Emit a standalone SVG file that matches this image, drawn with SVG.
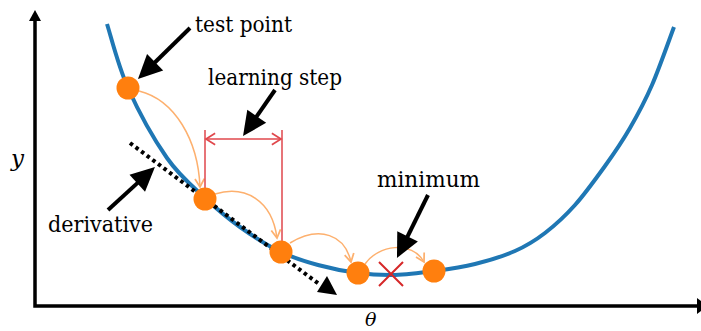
<svg xmlns="http://www.w3.org/2000/svg" width="701" height="331" viewBox="0 0 701 331">
<style>
text{font-family:'DejaVu Serif',serif;font-size:23px;fill:#000}
.it{font-style:italic}
.curve{fill:none;stroke:#1f77b4;stroke-width:4}
.pt{fill:#ff7f0e}
.step{fill:none;stroke:#fdb06e;stroke-width:1.5}
.red{fill:none;stroke:#e0474c;stroke-width:1.5}
.ptr{fill:none;stroke:#000;stroke-width:4}
</style>
<defs>
<marker id="oh" markerUnits="userSpaceOnUse" markerWidth="14" markerHeight="14" refX="0" refY="0" viewBox="-10 -6 12 12" orient="auto">
<path d="M-7,-4 L0,0 L-7,4" fill="none" stroke="#fdb06e" stroke-width="1.5"/>
</marker>
<marker id="rh" markerUnits="userSpaceOnUse" markerWidth="16" markerHeight="16" refX="0" refY="0" viewBox="-10 -7 12 14" orient="auto-start-reverse">
<path d="M-8,-5 L0,0 L-8,5" fill="none" stroke="#e0474c" stroke-width="1.5"/>
</marker>
<marker id="bh" markerUnits="userSpaceOnUse" markerWidth="28" markerHeight="26" refX="-15" refY="0" viewBox="-26 -13 28 26" orient="auto">
<path d="M0,0 L-24,-11.5 L-24,11.5 z" fill="#000"/>
</marker>
</defs>
<g id="axes">
<path d="M35,20 L35,306 L697,306" fill="none" stroke="#000" stroke-width="3.5"/>
<path d="M35,10 L29,21 L41,21 z" fill="#000"/>
<path d="M708,306 L697,298 L697,314 z" fill="#000"/>
<text class="it" x="11" y="166">y</text>
<text class="it" x="365" y="326" style="font-size:19px">θ</text>
</g>
<g id="curve">
<path class="curve" d="M107,24 C110.5,34.7 118,65.7 128,88 C138,110.3 154.2,139.7 167,158 C179.8,176.3 192.8,186.5 205,198 C217.2,209.5 227.3,218 240,227 C252.7,236 268,245.7 281,252 C294,258.3 305.2,261.5 318,265 C330.8,268.5 345.2,271.3 358,273 C370.8,274.7 382.2,275.3 395,275 C407.8,274.7 421.7,272.8 435,271 C448.3,269.2 461.7,267.3 475,264 C488.3,260.7 503.3,256.2 515,251 C526.7,245.8 535,240.7 545,233 C555,225.3 565,216.2 575,205 C585,193.8 595.8,178.8 605,166 C614.2,153.2 622.2,141.5 630,128 C637.8,114.5 644.7,101.8 652,85 C659.3,68.2 670.3,36.7 674,27"/>
</g>
<g id="connectors">
<path class="step" d="M139,91 C175,100 198,140 200,187" marker-end="url(#oh)"/>
<path class="step" d="M215,194 C245,185 272,200 277,238" marker-end="url(#oh)"/>
<path class="step" d="M290,243 C320,225 345,235 351,262" marker-end="url(#oh)"/>
<path class="step" d="M365,264 C378,245 412,240 424,262" marker-end="url(#oh)"/>
<path d="M130,143 L319,284" fill="none" stroke="#000" stroke-width="4" stroke-dasharray="3.5 3.5"/>
<path d="M337,295 L317,292 L327,276 z" fill="#000"/>
<path class="ptr" d="M190,28 L148.7,68.5" marker-end="url(#bh)"/>
<path class="ptr" d="M275,90 L251.6,123.7" marker-end="url(#bh)"/>
<path class="ptr" d="M108,210 L143.9,177.1" marker-end="url(#bh)"/>
<path class="ptr" d="M428,195 L403.6,244.5" marker-end="url(#bh)"/>
</g>
<g id="learning-step">
<path class="red" d="M205,130 L205,190 M282,130 L282,242"/>
<path class="red" d="M206,139 L281,139" marker-start="url(#rh)" marker-end="url(#rh)"/>
<text x="208" y="85" textLength="134" lengthAdjust="spacingAndGlyphs">learning step</text>
</g>
<g id="p1"><circle class="pt" cx="128" cy="88" r="11.5"/></g>
<g id="p2"><circle class="pt" cx="205" cy="199" r="11.5"/></g>
<g id="p3"><circle class="pt" cx="281" cy="252" r="11.5"/></g>
<g id="p4"><circle class="pt" cx="358" cy="273" r="11.5"/></g>
<g id="p5"><circle class="pt" cx="434" cy="271" r="11.5"/></g>
<g id="minimum-mark">
<path d="M379,262 L403,286 M403,262 L379,286" fill="none" stroke="#d62728" stroke-width="2"/>
</g>
<g id="test-point"><text x="195" y="32" textLength="97" lengthAdjust="spacingAndGlyphs">test point</text></g>
<g id="derivative"><text x="48" y="232" textLength="105" lengthAdjust="spacingAndGlyphs">derivative</text></g>
<g id="minimum"><text x="377" y="187" textLength="103" lengthAdjust="spacingAndGlyphs">minimum</text></g>
</svg>
